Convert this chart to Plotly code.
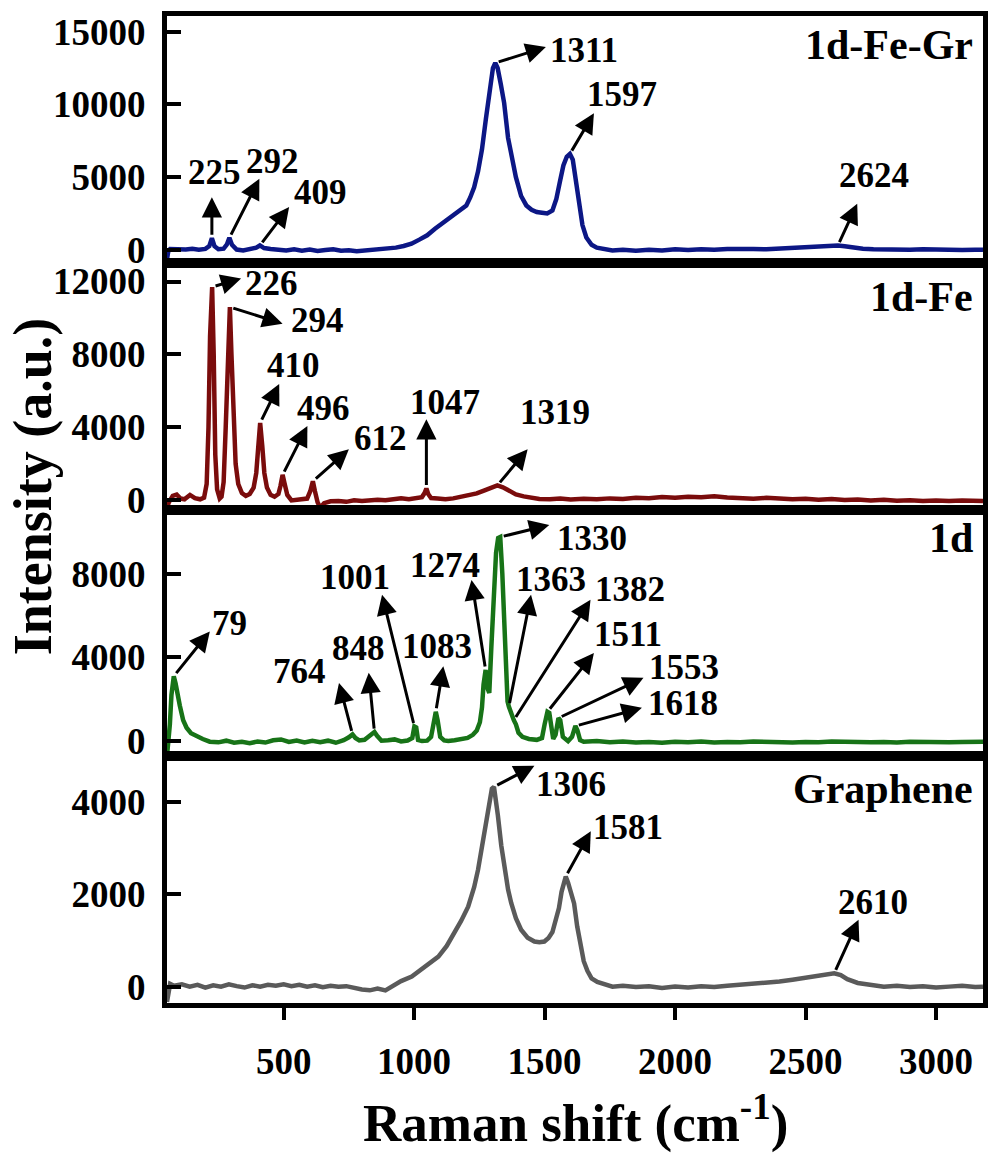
import plotly.graph_objects as go
from plotly.subplots import make_subplots

# ---------------- spectra (Raman shift in cm^-1, intensity in a.u.) ----------------
fegr_shift = [53, 58, 65, 80, 100, 125, 150, 175, 200, 215, 225, 235, 250, 270, 282, 292, 302, 320,
              345, 370, 395, 409, 425, 450, 480, 510, 540, 570, 600, 630, 660, 690, 720, 750, 780,
              810, 840, 870, 900, 930, 960, 990, 1020, 1050, 1080, 1110, 1140, 1160, 1180, 1200,
              1215, 1230, 1245, 1260, 1275, 1290, 1302, 1311, 1320, 1332, 1345, 1360, 1375, 1390,
              1410, 1430, 1450, 1470, 1490, 1510, 1530, 1545, 1560, 1572, 1585, 1597, 1608, 1620,
              1632, 1645, 1660, 1680, 1700, 1730, 1760, 1800, 1850, 1900, 1950, 2000, 2050, 2100,
              2150, 2200, 2250, 2300, 2350, 2400, 2450, 2500, 2550, 2580, 2600, 2624, 2650, 2680,
              2720, 2760, 2800, 2850, 2900, 2950, 3000, 3050, 3100, 3150, 3180]
fegr_int = [-650, -100, 60, 40, 90, 20, 70, 10, 60, 250, 800, 250, 40, 80, 350, 820, 350, 20,
            -50, 30, 150, 300, 120, 60, 20, -40, 30, -60, 20, -80, -20, 40, -60, -30, -90,
            -40, -20, 20, 80, 150, 260, 420, 700, 1000, 1450, 1850, 2250, 2500, 2750, 3050,
            3600, 4300, 5400, 6900, 9000, 11200, 12500, 12850, 12500, 11400, 10100, 7700, 6300, 5000,
            3700, 3050, 2750, 2600, 2550, 2500, 2700, 3500, 4800, 5800, 6400, 6600, 6200, 4700,
            3000, 1700, 850, 350, 150, 20, -40, 10, -60, 0, -50, 30, -20, 40,
            0, 50, 20, 60, 40, 90, 80, 120, 180, 220, 260, 300, 240, 150,
            80, 40, 20, 50, 0, 30, -10, 20, -20, 10, 0]

fe_shift = [53, 60, 75, 90, 105, 120, 141, 160, 180, 195, 205, 212, 218, 226, 232, 238, 245, 255,
            262, 270, 278, 286, 294, 300, 308, 316, 326, 340, 355, 370, 385, 395, 402, 410, 418,
            426, 436, 450, 465, 480, 488, 496, 504, 514, 530, 550, 570, 590, 602, 612, 620, 630,
            640, 655, 680, 710, 740, 770, 800, 830, 860, 890, 920, 950, 980, 1010, 1030, 1040,
            1047, 1054, 1065, 1090, 1120, 1150, 1180, 1210, 1240, 1270, 1295, 1319, 1340, 1365,
            1390, 1420, 1450, 1480, 1520, 1560, 1600, 1650, 1700, 1750, 1800, 1850, 1900, 1950,
            2000, 2050, 2100, 2150, 2200, 2250, 2300, 2350, 2400, 2450, 2500, 2550, 2600, 2650,
            2700, 2750, 2800, 2850, 2900, 2950, 3000, 3050, 3100, 3150, 3180]
fe_int = [-400, -100, 250, 320, 100, 60, 300, 120, 60, 150, 900, 4000, 9000, 11700, 8000, 2500, 600, 100,
          200, 1000, 4000, 8500, 10600, 8000, 4000, 2000, 900, 400, 250, 350, 700, 1500, 2800, 4250, 3000,
          1500, 700, 300, 200, 350, 800, 1400, 900, 300, 0, 20, 40, 100, 500, 1050, 500, -100,
          -400, -150, -50, -30, -80, 0, -40, 20, 40, 10, 80, 120, 60, 120, 180, 400,
          650, 350, 130, 100, 60, 110, 200, 280, 380, 550, 720, 820, 720, 500,
          330, 220, 130, 80, 60, 100, 50, 90, 60, 110, 80, 150, 120, 180,
          150, 200, 170, 220, 160, 120, 90, 140, 100, 60, 90, 40, 70, 20,
          50, 0, 30, -20, 10, -30, 0, -40, -10, -50, -30]

d1_shift = [53, 58, 64, 70, 74, 79, 86, 95, 102, 115, 128, 145, 166, 190, 217, 250, 280, 310, 340,
            370, 400, 430, 460, 490, 520, 550, 580, 610, 640, 670, 700, 730, 750, 764, 775, 790,
            810, 830, 848, 858, 875, 900, 925, 950, 975, 993, 1001, 1008, 1015, 1030, 1050, 1065,
            1075, 1083, 1090, 1100, 1115, 1131, 1155, 1181, 1205, 1225, 1240, 1252, 1260, 1266,
            1274, 1282, 1288, 1296, 1305, 1314, 1322, 1330, 1338, 1346, 1353, 1358, 1363, 1372,
            1382, 1390, 1400, 1415, 1440, 1470, 1490, 1500, 1511, 1518, 1525, 1533, 1542, 1553,
            1560, 1570, 1590, 1605, 1618, 1626, 1636, 1650, 1700, 1750, 1800, 1850, 1900, 1950,
            2000, 2050, 2100, 2150, 2200, 2250, 2300, 2350, 2400, 2450, 2500, 2550, 2600, 2650,
            2700, 2750, 2800, 2850, 2900, 2950, 3000, 3050, 3100, 3150, 3180]
d1_int = [-700, -200, 800, 2200, 2900, 3100, 2750, 2100, 1700, 1000, 640, 380, 240, 100, -30, -60, 20, -80, -30,
          -100, -20, -70, 40, 80, -40, 30, -60, 10, -50, 20, -80, 40, 180, 320, 150, 30,
          60, 250, 430, 250, 20, 40, 80, -20, 30, 150, 700, 650, 50, 0, 20, 200,
          1000, 1400, 1000, 200, 30, 0, 40, 80, 150, 300, 500, 900, 1600, 2700,
          3400, 2500, 2300, 4500, 7000, 9000, 9700, 9750, 8000, 5000, 2700, 1900, 1650, 1250,
          1000, 800, 400, 200, 100, 60, 150, 800, 1400, 1350, 700, 100, 300, 1100,
          1000, 200, 0, 200, 720, 500, 50, -30, 0, -60, -20, -70, -40, -80,
          -30, -60, -20, -70, -40, -60, -20, -50, -30, -70, -40, -60, -20, -50,
          -30, -60, -40, -70, -30, -50, -20, -60, -40, -50, -30]

gr_shift = [53, 58, 65, 80, 110, 140, 170, 200, 230, 260, 290, 320, 350, 380, 410, 440, 470, 500,
            530, 560, 590, 620, 650, 680, 710, 740, 770, 800, 830, 860, 890, 920, 950, 991, 1020,
            1050, 1093, 1125, 1156, 1180, 1207, 1230, 1245, 1258, 1270, 1280, 1289, 1298, 1306,
            1314, 1321, 1334, 1346, 1360, 1372, 1390, 1410, 1435, 1461, 1480, 1499, 1515, 1530,
            1545, 1555, 1565, 1575, 1581, 1590, 1600, 1613, 1625, 1638, 1650, 1664, 1680, 1702,
            1730, 1760, 1800, 1850, 1900, 1950, 2000, 2050, 2100, 2150, 2200, 2250, 2300, 2350,
            2400, 2450, 2500, 2550, 2580, 2610, 2635, 2660, 2700, 2750, 2800, 2850, 2900, 2950,
            3000, 3050, 3100, 3150, 3180]
gr_int = [-330, -100, 60, 20, 50, 0, 40, -20, 30, 0, 50, 10, -20, 30, 0, 40, 20, 50,
          10, 40, 0, 30, -10, 20, 0, 10, -30, -60, -80, -40, -80, 20, 120, 220, 350,
          480, 650, 880, 1160, 1420, 1730, 2150, 2530, 2950, 3320, 3750, 4050, 4280, 4320,
          4050, 3700, 3050, 2530, 2100, 1810, 1480, 1230, 1060, 975, 960, 975, 1050, 1180,
          1450, 1700, 2050, 2330, 2380, 2250, 2050, 1800, 1300, 870, 550, 340, 180, 100,
          40, 0, 20, -10, 10, -30, 0, -20, 10, -10, 20, 40, 60, 80,
          110, 150, 190, 240, 270, 290, 250, 160, 80, 30, 0, 20, -10, 10,
          -20, 0, 20, -10, 0]

# peak positions that get labelled in each panel
fegr_peaks = [225, 292, 409, 1311, 1597, 2624]
fe_peaks = [226, 294, 410, 496, 612, 1047, 1319]
d1_peaks = [79, 764, 848, 1001, 1083, 1274, 1330, 1363, 1382, 1511, 1553, 1618]
gr_peaks = [1306, 1581, 2610]

sample_names = ["1d-Fe-Gr", "1d-Fe", "1d", "Graphene"]

# ---------------- layout of the labels: (arrow head x, arrow head y, text x, text y) ----------------
fegr_marks = [(225, 3620, 236, 5300), (407, 4880, 457, 6100), (521, 2950, 643, 3940),
              (1505, 13940, 1652, 13715), (1689, 9400, 1797, 10650), (2698, 3175, 2764, 5100)]
fe_marks = [(337, 12170, 455, 11900), (496, 9690, 628, 9880), (483, 6380, 537, 7390),
            (591, 4080, 651, 5020), (750, 2800, 871, 3390), (1047, 4450, 1118, 5370),
            (1435, 2810, 1538, 4800)]
d1_marks = [(217, 5240, 293, 5600), (712, 2780, 562, 3330), (826, 3260, 788, 4410),
            (877, 6990, 773, 7820), (1112, 3570, 1086, 4520), (1220, 7700, 1118, 8380),
            (1518, 10320, 1683, 9690), (1448, 6990, 1524, 7700), (1676, 6750, 1826, 7220),
            (1689, 4210, 1820, 5080), (1879, 3020, 2035, 3500), (1873, 1590, 2032, 1800)]
gr_marks = [(1461, 4780, 1603, 4370), (1677, 3360, 1820, 3440), (2703, 1445, 2757, 1825)]

panels = [
    dict(x=fegr_shift, y=fegr_int, peaks=fegr_peaks, marks=fegr_marks, color="#0c1785",
         yrange=[-890, 16080], ticks=[0, 5000, 10000, 15000], name_y=14076),
    dict(x=fe_shift, y=fe_int, peaks=fe_peaks, marks=fe_marks, color="#7a0c0c",
         yrange=[-500, 13030], ticks=[0, 4000, 8000, 12000], name_y=11140),
    dict(x=d1_shift, y=d1_int, peaks=d1_peaks, marks=d1_marks, color="#177317",
         yrange=[-724, 11063], ticks=[0, 4000, 8000], name_y=9700),
    dict(x=gr_shift, y=gr_int, peaks=gr_peaks, marks=gr_marks, color="#5a5a5a",
         yrange=[-354, 4983], ticks=[0, 2000, 4000], name_y=4280),
]

FONT = "Liberation Serif"
XRANGE = [53, 3180]

fig = make_subplots(rows=4, cols=1, shared_xaxes=True, vertical_spacing=0)

annotations = []
for i, p in enumerate(panels):
    row = i + 1
    fig.add_trace(go.Scatter(x=p["x"], y=p["y"], mode="lines",
                             line=dict(color=p["color"], width=4.5),
                             name=sample_names[i], showlegend=False), row=row, col=1)
    xr = "x" if row == 1 else f"x{row}"
    yr = "y" if row == 1 else f"y{row}"
    lookup = dict(zip(p["x"], p["y"]))
    for peak, (hx, hy, tx, ty) in zip(p["peaks"], p["marks"]):
        annotations.append(dict(x=hx, y=hy, ax=peak, ay=lookup[peak], xref=xr, yref=yr,
                                axref=xr, ayref=yr, text="", showarrow=True,
                                arrowhead=2, arrowsize=1.35, arrowwidth=3, arrowcolor="black",
                                standoff=0, startstandoff=2))
        annotations.append(dict(x=tx, y=ty, xref=xr, yref=yr, text=str(peak), showarrow=False,
                                xanchor="center", yanchor="middle",
                                font=dict(family=FONT, size=35, color="black", weight="bold")))
    annotations.append(dict(x=3150, y=p["name_y"], xref=xr, yref=yr, text=sample_names[i],
                            showarrow=False, xanchor="right", yanchor="middle",
                            font=dict(family=FONT, size=42, color="black", weight="bold")))

    fig.update_yaxes(row=row, col=1, range=p["yrange"], tickvals=p["ticks"], tickformat="d",
                     ticks="inside", ticklen=14, tickwidth=4, tickcolor="black",
                     showline=True, mirror=True, linewidth=5, linecolor="black",
                     showgrid=False, zeroline=False, ticklabelstandoff=9,
                     tickfont=dict(family=FONT, size=37, color="black", weight="bold"))
    fig.update_xaxes(row=row, col=1, range=XRANGE, showline=True, mirror=True, linewidth=5,
                     linecolor="black", showgrid=False, zeroline=False,
                     ticks="outside" if row == 4 else "", showticklabels=(row == 4),
                     tickvals=[500, 1000, 1500, 2000, 2500, 3000], ticklen=12, tickwidth=4,
                     tickcolor="black", ticklabelstandoff=10,
                     tickfont=dict(family=FONT, size=37, color="black", weight="bold"))

# axis titles
annotations.append(dict(x=0.5, y=-0.118, xref="paper", yref="paper", showarrow=False,
                        text="Raman shift (cm<sup>-1</sup>)", xanchor="center", yanchor="middle",
                        font=dict(family=FONT, size=53, color="black", weight="bold")))
annotations.append(dict(x=-0.165, y=0.524, xref="paper", yref="paper", showarrow=False,
                        text="Intensity (a.u.)", textangle=-90, xanchor="center", yanchor="middle",
                        font=dict(family=FONT, size=54, color="black", weight="bold")))

fig.update_layout(width=991, height=1156, margin=dict(l=167, r=3, t=16, b=153),
                  paper_bgcolor="white", plot_bgcolor="white", annotations=annotations,
                  font=dict(family=FONT, color="black"))

fig.write_html("out.html")
